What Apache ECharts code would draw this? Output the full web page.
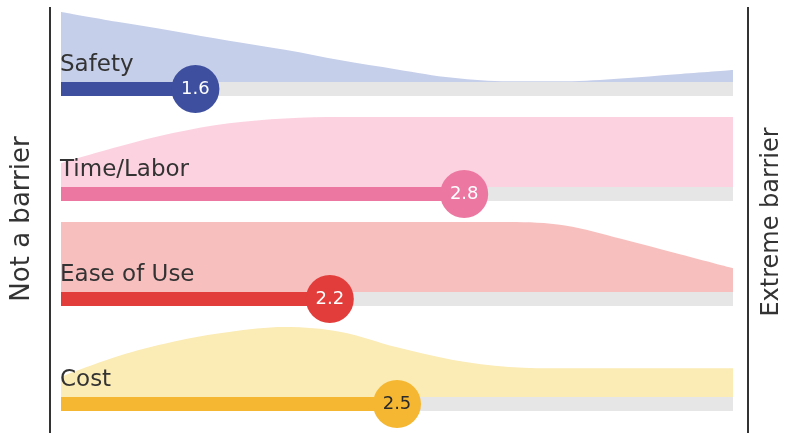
<!DOCTYPE html>
<html>
<head>
<meta charset="utf-8">
<script src="https://cdn.jsdelivr.net/npm/echarts@6/dist/echarts.min.js"></script>
<style>
  html, body { margin: 0; padding: 0; background: #fff; }
  #chart { width: 785px; height: 433px; }
</style>
</head>
<body>
<div id="chart"></div>
<script>
// scale positions (1 = not a barrier, 4 = extreme barrier)
const xs = [1, 1.25, 1.5, 1.75, 2, 2.25, 2.5, 2.75, 3, 3.25, 3.5, 3.75, 4]

const categories = ['Safety', 'Time/Labor', 'Ease of Use', 'Cost']
const scores = [1.6, 2.8, 2.2, 2.5]

// relative share of answers along the scale (peak = 1)
const safetyDist = [1.0, 0.86, 0.73, 0.59, 0.46, 0.31, 0.18, 0.06, 0.01, 0.01, 0.05, 0.11, 0.17]
const timeDist = [0.34, 0.57, 0.77, 0.91, 0.98, 1.0, 1.0, 1.0, 1.0, 1.0, 1.0, 1.0, 1.0]
const easeDist = [1.0, 1.0, 1.0, 1.0, 1.0, 1.0, 1.0, 1.0, 1.0, 0.95, 0.76, 0.55, 0.34]
const costDist = [0.29, 0.58, 0.79, 0.93, 1.0, 0.93, 0.71, 0.53, 0.43, 0.41, 0.41, 0.41, 0.41]

const dists = [safetyDist, timeDist, easeDist, costDist]

const areaColors = ['#c6cfea', '#fcd2e1', '#f7bfbe', '#fbebb5']
const barColors = ['#3e4f9f', '#ec78a1', '#e23d3a', '#f5b731']
const valueColors = ['#fff', '#fff', '#fff', '#2a2a2a']
const baselines = [82, 187, 292, 397]

const font = 'DejaVu Sans'

let myChart = echarts.init(document.getElementById('chart'))

let grid = []
let xAxis = []
let yAxis = []
let series = []
let graphic = []

categories.forEach(function (name, i) {
  grid.push({ left: 61, right: 52, top: baselines[i] - 70, height: 84 })
  xAxis.push({ gridIndex: i, type: 'value', min: 1, max: 4, show: false })
  yAxis.push({ gridIndex: i, type: 'value', min: -0.2, max: 1, show: false })

  // distribution area
  series.push({
    type: 'line',
    xAxisIndex: i,
    yAxisIndex: i,
    smooth: 0.35,
    symbol: 'none',
    silent: true,
    clip: false,
    lineStyle: { width: 0 },
    areaStyle: { color: areaColors[i], opacity: 1, origin: 0 },
    data: xs.map(function (x, k) { return [x, dists[i][k]] }),
    z: 1
  })
  // gray track
  series.push({
    type: 'line',
    xAxisIndex: i,
    yAxisIndex: i,
    symbol: 'none',
    silent: true,
    clip: false,
    lineStyle: { width: 14, color: '#e6e6e6', cap: 'butt' },
    data: [[1, -0.1], [4, -0.1]],
    z: 2
  })
  // score bar
  series.push({
    type: 'line',
    xAxisIndex: i,
    yAxisIndex: i,
    symbol: 'none',
    silent: true,
    clip: false,
    lineStyle: { width: 14, color: barColors[i], cap: 'butt' },
    data: [[1, -0.1], [scores[i], -0.1]],
    z: 3
  })
  // score bubble
  series.push({
    type: 'scatter',
    xAxisIndex: i,
    yAxisIndex: i,
    symbolSize: 48,
    silent: true,
    clip: false,
    itemStyle: { color: barColors[i], opacity: 1 },
    label: {
      show: true,
      position: 'inside',
      formatter: function () { return scores[i].toFixed(1) },
      color: valueColors[i],
      fontFamily: font,
      fontSize: 18
    },
    data: [[scores[i], -0.1]],
    z: 4
  })

  graphic.push({
    type: 'text',
    left: 60,
    top: baselines[i] - 28,
    style: { text: name, fill: '#333', font: '23px "' + font + '"' },
    z: 10
  })
})

graphic.push(
  { type: 'line', shape: { x1: 50, y1: 7, x2: 50, y2: 433 }, style: { stroke: '#333', lineWidth: 2 } },
  { type: 'line', shape: { x1: 748, y1: 7, x2: 748, y2: 433 }, style: { stroke: '#333', lineWidth: 2 } },
  {
    type: 'text',
    x: 22,
    y: 219,
    rotation: Math.PI / 2,
    style: { text: 'Not a barrier', fill: '#333', font: '26px "' + font + '"', align: 'center', verticalAlign: 'middle' }
  },
  {
    type: 'text',
    x: 772,
    y: 222,
    rotation: Math.PI / 2,
    style: { text: 'Extreme barrier', fill: '#333', font: '24px "' + font + '"', align: 'center', verticalAlign: 'middle' }
  }
)

myChart.setOption({
  animation: false,
  grid: grid,
  xAxis: xAxis,
  yAxis: yAxis,
  series: series,
  graphic: graphic
})
</script>
</body>
</html>
